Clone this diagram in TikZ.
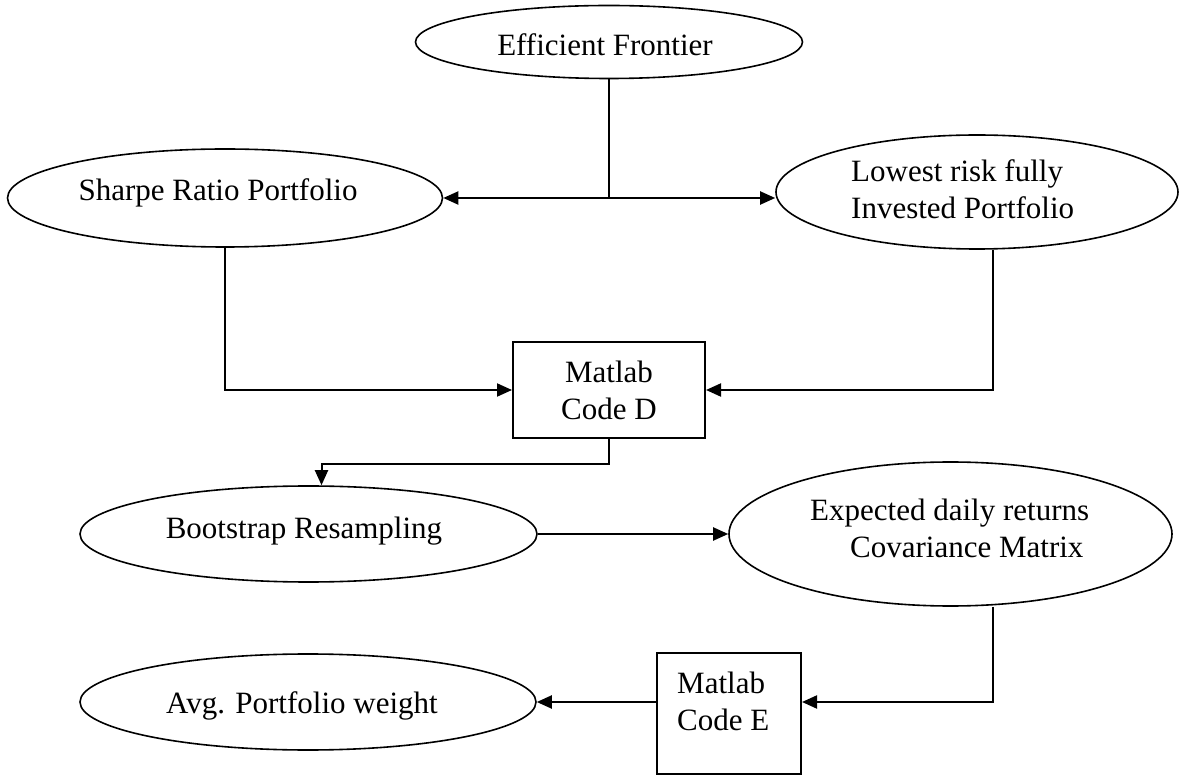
\documentclass[tikz,border=0pt]{standalone}
\usepackage{fontspec}
\setmainfont{Liberation Serif}
\usetikzlibrary{shapes.geometric,arrows.meta}
\begin{document}
\begin{tikzpicture}[x=1pt,y=-1pt,
  oval/.style={draw, ellipse, line width=1.6pt, inner sep=0pt},
  codebox/.style={draw, rectangle, line width=2pt, inner sep=0pt,
    font=\fontsize{31}{37}\selectfont, align=center},
  lbl/.style={font=\fontsize{31}{37}\selectfont, inner sep=0pt},
  conn/.style={line width=2pt},
  arr/.style={conn, -{Triangle[length=15pt,width=13pt]}}]
\useasboundingbox (0,0) rectangle (1179,775);

% shapes
\node[oval, minimum width=387pt, minimum height=73pt] (ef) at (609,42) {};
\node[oval, minimum width=435pt, minimum height=98pt] (sharpe) at (225,198) {};
\node[oval, minimum width=402pt, minimum height=114pt] (low) at (977,192) {};
\node[codebox, minimum width=192pt, minimum height=96pt] (boxd) at (609,390) {Matlab\\Code D};
\node[oval, minimum width=457pt, minimum height=96pt] (boot) at (308.5,534) {};
\node[oval, minimum width=443pt, minimum height=144pt] (exp) at (950.5,534) {};
\node[codebox, minimum width=144pt, minimum height=121pt] (boxe) at (729,713.5) {};
\node[oval, minimum width=456pt, minimum height=96pt] (avg) at (308,702) {};

% texts
\node[lbl] (eft) at (605,45) {Efficient Frontier};
\node[lbl] (sharpet) at (218,193) {Sharpe Ratio Portfolio};
\node[lbl, align=left, anchor=north west] (lowt) at (851,159) {Lowest risk fully\\Invested Portfolio};
\node[lbl] (boott) at (304,531) {Bootstrap Resampling};
\node[lbl, align=left, anchor=north west] (expt) at (810,499) {Expected daily returns\\\hspace*{40pt}Covariance Matrix};
\node[lbl, align=left, anchor=north west] (boxet) at (677,672) {Matlab\\Code E};
\node[lbl] (avgt) at (302,706) {Avg. Portfolio weight};

% connectors
\coordinate (j1) at (609,198);
\draw[conn] (ef.south) -- (j1);
\draw[arr] (j1) -- (sharpe.east);
\draw[arr] (j1) -- (j1 -| low.west);
\draw[arr] (sharpe.south) |- (boxd.west);
\draw[arr] ([xshift=16pt]low.south) |- (boxd.east);
\draw[arr] (boxd.south) -- ++(0,25) -| ([xshift=13pt]boot.north);
\draw[arr] (boot.east) -- (exp.west);
\draw[arr] ([xshift=42.5pt]exp.south) |- ([yshift=11.5pt]boxe.east);
\draw[arr] ([yshift=11.5pt]boxe.west) -- (avg.east);
\end{tikzpicture}
\end{document}
